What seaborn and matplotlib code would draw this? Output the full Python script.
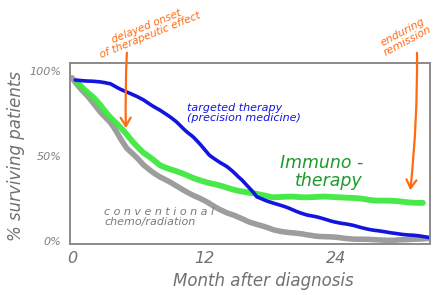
import numpy as np
import pandas as pd
import matplotlib
matplotlib.use("Agg")
import matplotlib.pyplot as plt
import seaborn as sns

# ---- data ----
months_targeted = [0.3, 1.9, 3.5, 5.0, 6.5, 8.0, 9.5, 11.0, 12.5, 14.1, 15.5, 16.8, 18.3, 21.4, 24.4, 27.4, 28.9, 31.0, 32.5]
surv_targeted = [94.7, 94.1, 92.4, 87.6, 82.9, 77.1, 70.0, 61.2, 50.6, 43.5, 35.9, 25.9, 22.4, 15.3, 10.6, 6.5, 4.7, 3.5, 1.8]

months_immuno = [0.45, 1.9, 3.5, 5.0, 6.5, 8.0, 11.0, 14.1, 16.2, 18.3, 21.4, 24.4, 27.4, 31.9]
surv_immuno = [93.5, 84.7, 72.9, 62.4, 51.8, 44.7, 37.1, 31.2, 28.2, 25.9, 25.9, 25.9, 24.1, 22.4]

months_chemo = [0.0, 1.9, 3.5, 5.0, 6.5, 8.0, 11.0, 14.1, 16.2, 18.3, 21.4, 24.4, 27.4, 30.5, 32.5]
surv_chemo = [96.0, 81.2, 69.4, 54.7, 44.7, 37.6, 27.1, 16.5, 11.2, 6.5, 3.5, 1.8, 0.6, 0.6, 1.8]

x_ticks = [0, 12, 24]
x_tick_labels = ["0", "12", "24"]
y_ticks = [0, 50, 100]
y_tick_labels = ["0%", "50%", "100%"]

df = pd.concat([
    pd.DataFrame({"month": months_chemo, "surv": surv_chemo, "therapy": "chemo"}),
    pd.DataFrame({"month": months_immuno, "surv": surv_immuno, "therapy": "immuno"}),
    pd.DataFrame({"month": months_targeted, "surv": surv_targeted, "therapy": "targeted"}),
])

sns.set_style("white")
plt.rcParams['font.family'] = ['DejaVu Sans']

W, H = 437, 295
fig = plt.figure(figsize=(W / 100, H / 100), dpi=100)
ax = fig.add_axes([70 / W, 1 - 244 / H, (430 - 70) / W, (244 - 63) / H])

styles = {
    "chemo": dict(color="#929292", lw=4.0, alpha=0.9),
    "immuno": dict(color="#3ee83e", lw=4.2, alpha=0.95),
    "targeted": dict(color="#1414e0", lw=2.6, alpha=1.0),
}
for name in ["chemo", "immuno", "targeted"]:
    sub = df[df.therapy == name]
    sns.lineplot(data=sub, x="month", y="surv", ax=ax, sort=False,
                 color=styles[name]["color"], lw=styles[name]["lw"],
                 alpha=styles[name]["alpha"], solid_capstyle="round",
                 solid_joinstyle="round")
for ln in ax.get_lines():
    ln.set_sketch_params(scale=0.35, length=40, randomness=2)

ax.set_xlim(-0.18, 32.55)
ax.set_ylim(-1.76, 104.7)
ax.set_xticks(x_ticks)
ax.set_xticklabels(x_tick_labels, fontsize=11.5, color="#707070", style="italic")
ax.set_yticks(y_ticks)
ax.set_yticklabels(y_tick_labels, fontsize=8, color="#808080", style="italic")
ax.tick_params(length=0, pad=6)
ax.tick_params(axis="x", pad=5)
ax.set_xlabel("")
ax.set_ylabel("")
for s in ax.spines.values():
    s.set_color("#8a8a8a")
    s.set_linewidth(1.4)

def fx(px):
    return px / W

def fy(py):
    return 1 - py / H

grey = "#707070"
orange = "#ff6a13"

fig.text(fx(263), fy(281), "Month after diagnosis", ha="center", va="center",
         fontsize=12, color=grey, style="italic")
fig.text(fx(16), fy(156), "% surviving patients", ha="center", va="center",
         fontsize=12, color=grey, style="italic", rotation=90)

fig.text(fx(187), fy(113), "targeted therapy\n(precision medicine)", ha="left", va="center",
         fontsize=8, color="#1414dd", style="italic", linespacing=1.05)
fig.text(fx(363), fy(172), "Immuno -\ntherapy", ha="right", va="center",
         fontsize=12.5, color="#1a9a2a", style="italic", linespacing=1.0)
fig.text(fx(104), fy(217), "c o n v e n t i o n a l\nchemo/radiation", ha="left", va="center",
         fontsize=8, color="#7a7a7a", style="italic", linespacing=1.0)

fig.text(fx(148), fy(31), "delayed onset\nof therapeutic effect", ha="center", va="center",
         fontsize=7.6, color=orange, style="italic", rotation=22, linespacing=1.0,
         multialignment="center")
fig.text(fx(405), fy(37), "enduring\nremission", ha="center", va="center",
         fontsize=7.8, color=orange, style="italic", rotation=28, linespacing=1.0,
         multialignment="center")

fig.add_artist(matplotlib.patches.FancyArrowPatch(
    (fx(127), fy(50)), (fx(126), fy(131)), transform=fig.transFigure,
    arrowstyle="->,head_length=0.5,head_width=0.3", color=orange, lw=1.6,
    mutation_scale=12, connectionstyle="arc3,rad=0.02"))
fig.add_artist(matplotlib.patches.FancyArrowPatch(
    (fx(417), fy(50)), (fx(410), fy(193)), transform=fig.transFigure,
    arrowstyle="->,head_length=0.5,head_width=0.3", color=orange, lw=1.6,
    mutation_scale=12, connectionstyle="arc3,rad=-0.03"))

fig.savefig("out.png", dpi=100)
